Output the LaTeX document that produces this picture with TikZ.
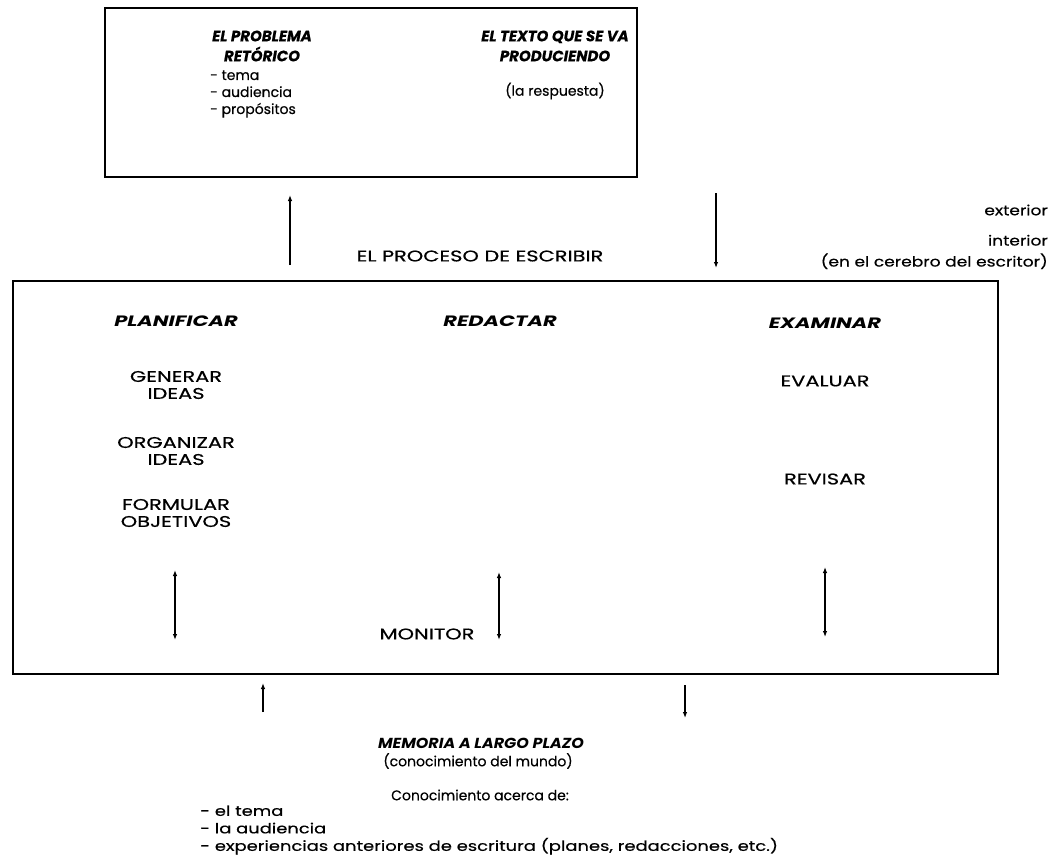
\documentclass[tikz,border=0pt]{standalone}
\usepackage{fontspec}
\setmainfont{Poppins}[FakeBold=0.4]
\newfontfamily\wideface{Poppins}[FakeStretch=1.35,FakeBold=0.5]
\newfontfamily\headface{Poppins}[FakeStretch=1.1]
\newfontfamily\wideheadface{Poppins}[FakeStretch=1.4]
\newfontfamily\sideface{Poppins}[FakeStretch=1.22,FakeBold=0.4]
\newfontfamily\listface{Poppins}[FakeStretch=1.28,FakeBold=0.4]
\usetikzlibrary{arrows.meta}

\tikzset{
  txt/.style={inner sep=0pt, font=\fontsize{14}{17}\selectfont},
  widetxt/.style={inner sep=0pt, font=\wideface\fontsize{15.5}{17}\selectfont},
  sidetxt/.style={inner sep=0pt, font=\sideface\fontsize{14}{21}\selectfont},
  listtxt/.style={inner sep=0pt, font=\listface\fontsize{14}{17.5}\selectfont},
  tophead/.style={inner sep=0pt, font=\fontsize{15}{20}\selectfont\bfseries\itshape},
  head/.style={inner sep=0pt, font=\headface\fontsize{14.5}{20}\selectfont\bfseries\itshape},
  widehead/.style={inner sep=0pt, font=\wideheadface\fontsize{15}{20}\selectfont\bfseries\itshape},
  frame/.style={line width=1.4pt},
  flow/.style={line width=1.1pt, -{Latex[length=6pt,width=4.5pt]}},
  twoway/.style={line width=1.1pt, {Latex[length=6pt,width=4.5pt]}-{Latex[length=6pt,width=4.5pt]}},
}

\begin{document}
\begin{tikzpicture}[x=1pt,y=1pt,yscale=-1]
    \useasboundingbox (0,0) rectangle (1064,861);
    %Shape: Rectangle [top box]
    \draw [frame] (105,8) rectangle (637,177);
    %Shape: Rectangle [process box]
    \draw [frame] (13,281) rectangle (998,674);

    % Text Node
    \draw (262,46) node (problema) [tophead, align=center] {EL PROBLEMA\\RETÓRICO};
    % Text Node
    \draw (210,94) node (problist) [txt, anchor=west, align=left] {- tema\\- audiencia\\- propósitos};
    % Text Node
    \draw (555,46) node (texto) [tophead, align=center] {EL TEXTO QUE SE VA\\PRODUCIENDO};
    % Text Node
    \draw (555,91) node (respuesta) [txt] {(la respuesta)};
    % Text Node
    \draw (1048,210) node (exterior) [sidetxt, anchor=east] {exterior};
    % Text Node
    \draw (1048,252) node (interior) [sidetxt, anchor=east, align=right] {interior\\(en el cerebro del escritor)};
    % Text Node
    \draw (480,256) node (proceso) [widetxt] {EL PROCESO DE ESCRIBIR};

    % Text Node
    \draw (176,321) node (planif) [widehead] {PLANIFICAR};
    % Text Node
    \draw (500,321) node (redactar) [widehead] {REDACTAR};
    % Text Node
    \draw (825,323) node (examinar) [widehead] {EXAMINAR};
    % Text Node
    \draw (176,385) node (generar) [widetxt, align=center] {GENERAR\\IDEAS};
    % Text Node
    \draw (176,451) node (organizar) [widetxt, align=center] {ORGANIZAR\\IDEAS};
    % Text Node
    \draw (176,513) node (formular) [widetxt, align=center] {FORMULAR\\OBJETIVOS};
    % Text Node
    \draw (825,381) node (evaluar) [widetxt] {EVALUAR};
    % Text Node
    \draw (825,479) node (revisar) [widetxt] {REVISAR};
    % Text Node
    \draw (427,634) node (monitor) [widetxt] {MONITOR};

    % Text Node
    \draw (481,743) node (memoria) [head] {MEMORIA A LARGO PLAZO};
    % Text Node
    \draw (478,761) node (mundo) [txt] {(conocimiento del mundo)};
    % Text Node
    \draw (480,795) node (acerca) [txt] {Conocimiento acerca de:};
    % Text Node
    \draw (200,830) node (memlist) [listtxt, anchor=west, align=left] {- el tema\\- la audiencia\\- experiencias anteriores de escritura (planes, redacciones, etc.)};

    % arrow ends
    \coordinate (upA) at (290,265);  \coordinate (upB) at (290,195);
    \coordinate (dnA) at (716,193);  \coordinate (dnB) at (716,268);
    \coordinate (planA) at (175,570); \coordinate (planB) at (175,640);
    \coordinate (redA) at (499,572);  \coordinate (redB) at (499,640);
    \coordinate (exaA) at (825,567);  \coordinate (exaB) at (825,637);
    \coordinate (memA) at (263,712);  \coordinate (memB) at (263,683);
    \coordinate (outA) at (685,685);  \coordinate (outB) at (685,718);

    \draw [flow] (upA) -- (upB);
    \draw [flow] (dnA) -- (dnB);
    \draw [twoway] (planA) -- (planB);
    \draw [twoway, line width=1.8pt] (redA) -- (redB);
    \draw [twoway] (exaA) -- (exaB);
    \draw [flow] (memA) -- (memB);
    \draw [flow] (outA) -- (outB);
\end{tikzpicture}
\end{document}
